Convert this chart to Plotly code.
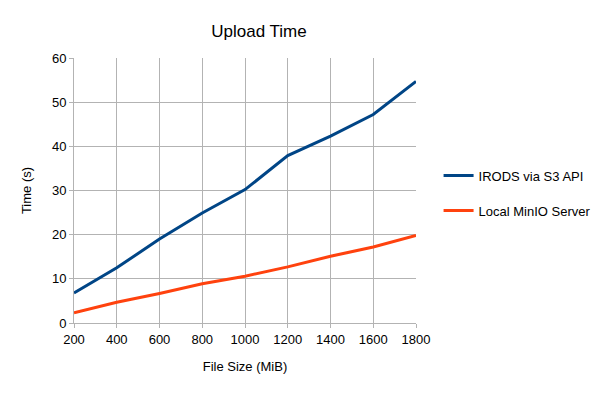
import plotly.graph_objects as go

file_size = [200, 400, 600, 800, 1000, 1200, 1400, 1600, 1800]
irods_s3 = [6.8, 12.5, 19.0, 24.9, 30.2, 37.9, 42.3, 47.2, 54.7]
local_minio = [2.3, 4.7, 6.7, 8.9, 10.6, 12.7, 15.1, 17.2, 19.8]

fig = go.Figure()
fig.add_trace(go.Scatter(x=file_size, y=irods_s3, mode="lines", name="IRODS via S3 API",
                         line=dict(color="#004586", width=3), legendgroup="a"))
fig.add_trace(go.Scatter(x=file_size, y=local_minio, mode="lines", name="Local MinIO Server",
                         line=dict(color="#ff420e", width=3), legendgroup="b"))

font = "Liberation Sans, Arial, sans-serif"
fig.update_layout(
    width=605, height=393,
    margin=dict(l=74, r=189, t=58, b=70, autoexpand=False),
    paper_bgcolor="white", plot_bgcolor="white",
    font=dict(family=font, size=13, color="#000000"),
    title=dict(text="Upload Time", x=259/605, xanchor="center", y=1-31/393, yanchor="middle",
               xref="container", yref="container",
               font=dict(family=font, size=17, color="#000000")),
    showlegend=True,
    legend=dict(x=1.066, xanchor="left", y=0.49, yanchor="middle",
                font=dict(family=font, size=13), tracegroupgap=15,
                itemwidth=30, bgcolor="rgba(0,0,0,0)"),
    xaxis=dict(range=[200, 1800], tickmode="array", tickvals=file_size,
               showgrid=True, gridcolor="#b3b3b3", gridwidth=1,
               showline=True, linecolor="#b3b3b3", zeroline=False,
               ticks="outside", ticklen=4, tickcolor="#b3b3b3",
               title=dict(text="File Size (MiB)", font=dict(size=13), standoff=16),
               mirror=False),
    yaxis=dict(range=[0, 60], dtick=10,
               showgrid=True, gridcolor="#b3b3b3", gridwidth=1,
               showline=True, linecolor="#b3b3b3", zeroline=False,
               ticks="outside", ticklen=4, tickcolor="#b3b3b3",
               title=dict(text="Time (s)", font=dict(size=13), standoff=17)),
)
fig.write_html("out.html")
